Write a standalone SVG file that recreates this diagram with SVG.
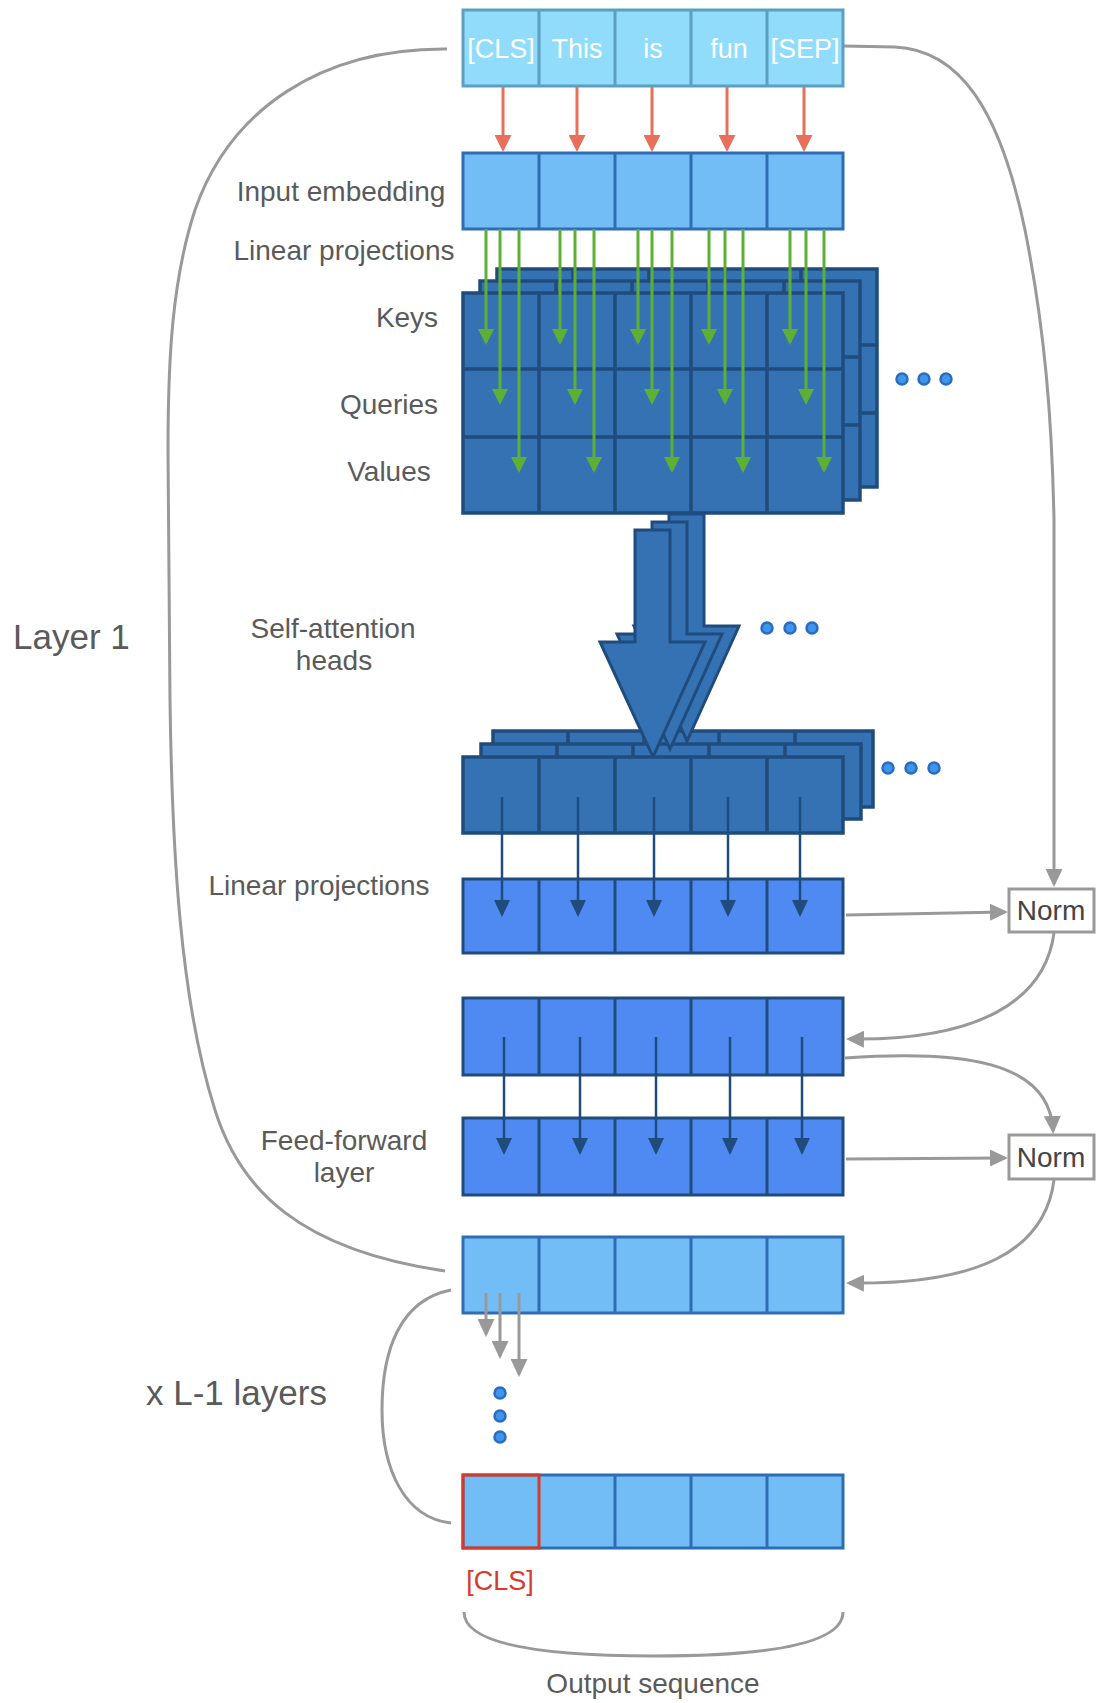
<svg xmlns="http://www.w3.org/2000/svg" width="1096" height="1703" viewBox="0 0 1096 1703">
<style>
text{font-family:"Liberation Sans",Arial,Helvetica,sans-serif}
.lbl{font-size:28px;fill:#5a5a5a;text-anchor:middle}
.big{font-size:35px;fill:#5a5a5a}
.tok{font-size:27px;fill:#ffffff;text-anchor:middle}
.nrm{font-size:28px;fill:#444444;text-anchor:middle}
.cls{font-size:27px;fill:#d63a2a;text-anchor:middle}
.tokc{fill:#90dcfa;stroke:#5b9fc1;stroke-width:3}
.tokl{stroke:#5b9fc1;stroke-width:3}
.emb{fill:#73bdf7;stroke:#2e6db4;stroke-width:3}
.embl{stroke:#2e6db4;stroke-width:3}
.att{fill:#3472b4;stroke:#1f4c7d;stroke-width:3.5}
.attl{stroke:#1f4c7d;stroke-width:3.5}
.lin{fill:#4f8af2;stroke:#1f4c7d;stroke-width:3}
.linl{stroke:#1f4c7d;stroke-width:3}
.gray{fill:none;stroke:#999999;stroke-width:3}
.red{stroke:#e8705a;stroke-width:3}
.green{stroke:#5cb033;stroke-width:3}
.dark{stroke:#1f4c7d;stroke-width:2.5}
.dot{fill:#3f95ec;stroke:#2a6cbf;stroke-width:2.5}
.bigarr{fill:#3472b4;stroke:#1f4c7d;stroke-width:3;stroke-linejoin:miter}
.normbox{fill:#ffffff;stroke:#999999;stroke-width:3}
</style>
<defs>
<marker id="mGray" viewBox="0 0 18 17" refX="15" refY="8.5" markerWidth="18" markerHeight="17" markerUnits="userSpaceOnUse" orient="auto"><path d="M0,0 L18,8.5 L0,17 z" fill="#999999"/></marker>
<marker id="mRed" viewBox="0 0 17 17" refX="14" refY="8.5" markerWidth="17" markerHeight="17" markerUnits="userSpaceOnUse" orient="auto"><path d="M0,0 L17,8.5 L0,17 z" fill="#e8705a"/></marker>
<marker id="mGreen" viewBox="0 0 16 16" refX="13" refY="8" markerWidth="16" markerHeight="16" markerUnits="userSpaceOnUse" orient="auto"><path d="M0,0 L16,8 L0,16 z" fill="#5cb033"/></marker>
<marker id="mDark" viewBox="0 0 17 16" refX="14" refY="8" markerWidth="17" markerHeight="16" markerUnits="userSpaceOnUse" orient="auto"><path d="M0,0 L17,8 L0,16 z" fill="#1f4c7d"/></marker>
</defs>
<rect width="1096" height="1703" fill="#ffffff"/>

<!-- connectors (gray loops and skip connections) -->
<g id="connectors">
<path class="gray" d="M447,49 C320,48 230,110 195,210 C172,280 168,360 168,450 L170,700 C172,850 180,1000 215,1110 C240,1190 300,1250 445,1271"/>
<path class="gray" d="M451,1290 C400,1300 382,1350 382,1410 C382,1470 405,1518 451,1523"/>
<path class="gray" d="M843,46 L895,47 C960,50 1000,110 1025,230 C1045,330 1052,420 1054,520 L1054,884" marker-end="url(#mGray)"/>
<path class="gray" d="M846,915 L1005,912" marker-end="url(#mGray)"/>
<path class="gray" d="M1054,933 C1045,1000 980,1041 849,1039" marker-end="url(#mGray)"/>
<path class="gray" d="M845,1058 C960,1050 1050,1060 1053,1131" marker-end="url(#mGray)"/>
<path class="gray" d="M846,1159 L1005,1158" marker-end="url(#mGray)"/>
<path class="gray" d="M1054,1180 C1045,1250 980,1285 849,1283" marker-end="url(#mGray)"/>
<path class="gray" d="M464,1612 C464,1648 560,1656 654,1656 C748,1656 843,1648 843,1612"/>
</g>

<!-- input tokens -->
<g id="tokens">
<rect class="tokc" x="463" y="10" width="380" height="76"/>
<line class="tokl" x1="539" y1="10" x2="539" y2="86"/>
<line class="tokl" x1="615" y1="10" x2="615" y2="86"/>
<line class="tokl" x1="691" y1="10" x2="691" y2="86"/>
<line class="tokl" x1="767" y1="10" x2="767" y2="86"/>
<text class="tok" x="501" y="58">[CLS]</text>
<text class="tok" x="577" y="58">This</text>
<text class="tok" x="653" y="58">is</text>
<text class="tok" x="729" y="58">fun</text>
<text class="tok" x="805" y="58">[SEP]</text>
</g>

<!-- input embedding -->
<g id="embedding">
<rect class="emb" x="463" y="153" width="380" height="76"/>
<line class="embl" x1="539" y1="153" x2="539" y2="229"/>
<line class="embl" x1="615" y1="153" x2="615" y2="229"/>
<line class="embl" x1="691" y1="153" x2="691" y2="229"/>
<line class="embl" x1="767" y1="153" x2="767" y2="229"/>
</g>

<g id="token-arrows">
<line class="red" x1="503" y1="87" x2="503" y2="149" marker-end="url(#mRed)"/>
<line class="red" x1="577" y1="87" x2="577" y2="149" marker-end="url(#mRed)"/>
<line class="red" x1="652" y1="87" x2="652" y2="149" marker-end="url(#mRed)"/>
<line class="red" x1="727" y1="87" x2="727" y2="149" marker-end="url(#mRed)"/>
<line class="red" x1="804" y1="87" x2="804" y2="149" marker-end="url(#mRed)"/>
</g>

<!-- keys / queries / values heads -->
<g id="kqv-head3">
<rect class="att" x="497" y="269" width="380" height="218"/>
<line class="attl" x1="573" y1="269" x2="573" y2="487"/>
<line class="attl" x1="649" y1="269" x2="649" y2="487"/>
<line class="attl" x1="725" y1="269" x2="725" y2="487"/>
<line class="attl" x1="801" y1="269" x2="801" y2="487"/>
<line class="attl" x1="497" y1="345" x2="877" y2="345"/>
<line class="attl" x1="497" y1="413" x2="877" y2="413"/>
</g>
<g id="kqv-head2">
<rect class="att" x="480" y="281" width="380" height="219"/>
<line class="attl" x1="556" y1="281" x2="556" y2="500"/>
<line class="attl" x1="632" y1="281" x2="632" y2="500"/>
<line class="attl" x1="708" y1="281" x2="708" y2="500"/>
<line class="attl" x1="784" y1="281" x2="784" y2="500"/>
<line class="attl" x1="480" y1="357" x2="860" y2="357"/>
<line class="attl" x1="480" y1="425" x2="860" y2="425"/>
</g>
<g id="kqv-head1">
<rect class="att" x="463" y="293" width="380" height="220"/>
<line class="attl" x1="539" y1="293" x2="539" y2="513"/>
<line class="attl" x1="615" y1="293" x2="615" y2="513"/>
<line class="attl" x1="691" y1="293" x2="691" y2="513"/>
<line class="attl" x1="767" y1="293" x2="767" y2="513"/>
<line class="attl" x1="463" y1="369" x2="843" y2="369"/>
<line class="attl" x1="463" y1="437" x2="843" y2="437"/>
</g>

<g id="projection-arrows">
<line class="green" x1="486" y1="229" x2="486" y2="342" marker-end="url(#mGreen)"/>
<line class="green" x1="500" y1="229" x2="500" y2="402" marker-end="url(#mGreen)"/>
<line class="green" x1="519" y1="229" x2="519" y2="470" marker-end="url(#mGreen)"/>
<line class="green" x1="560" y1="229" x2="560" y2="342" marker-end="url(#mGreen)"/>
<line class="green" x1="575" y1="229" x2="575" y2="402" marker-end="url(#mGreen)"/>
<line class="green" x1="594" y1="229" x2="594" y2="470" marker-end="url(#mGreen)"/>
<line class="green" x1="638" y1="229" x2="638" y2="342" marker-end="url(#mGreen)"/>
<line class="green" x1="652" y1="229" x2="652" y2="402" marker-end="url(#mGreen)"/>
<line class="green" x1="672" y1="229" x2="672" y2="470" marker-end="url(#mGreen)"/>
<line class="green" x1="709" y1="229" x2="709" y2="342" marker-end="url(#mGreen)"/>
<line class="green" x1="725" y1="229" x2="725" y2="402" marker-end="url(#mGreen)"/>
<line class="green" x1="743" y1="229" x2="743" y2="470" marker-end="url(#mGreen)"/>
<line class="green" x1="790" y1="229" x2="790" y2="342" marker-end="url(#mGreen)"/>
<line class="green" x1="806" y1="229" x2="806" y2="402" marker-end="url(#mGreen)"/>
<line class="green" x1="824" y1="229" x2="824" y2="470" marker-end="url(#mGreen)"/>
</g>

<g id="dots-kqv">
<circle class="dot" cx="902" cy="379" r="5.5"/>
<circle class="dot" cx="924" cy="379" r="5.5"/>
<circle class="dot" cx="946" cy="379" r="5.5"/>
</g>

<!-- attention output heads -->
<g id="out-head3">
<rect class="att" x="493" y="731" width="380" height="76"/>
<line class="attl" x1="568" y1="731" x2="568" y2="807"/>
<line class="attl" x1="644" y1="731" x2="644" y2="807"/>
<line class="attl" x1="719" y1="731" x2="719" y2="807"/>
<line class="attl" x1="795" y1="731" x2="795" y2="807"/>
</g>
<g id="out-head2">
<rect class="att" x="481" y="744" width="380" height="75"/>
<line class="attl" x1="557" y1="744" x2="557" y2="819"/>
<line class="attl" x1="633" y1="744" x2="633" y2="819"/>
<line class="attl" x1="709" y1="744" x2="709" y2="819"/>
<line class="attl" x1="785" y1="744" x2="785" y2="819"/>
</g>

<g id="self-attention-arrows">
<polygon class="bigarr" points="669,514 704,514 704,626 739,626 687,741 634,626 669,626"/>
<polygon class="bigarr" points="652,522 687,522 687,634 722,634 670,749 617,634 652,634"/>
<polygon class="bigarr" points="635,530 670,530 670,642 705,642 653,757 600,642 635,642"/>
</g>

<g id="out-head1">
<rect class="att" x="463" y="757" width="380" height="76"/>
<line class="attl" x1="539" y1="757" x2="539" y2="833"/>
<line class="attl" x1="615" y1="757" x2="615" y2="833"/>
<line class="attl" x1="691" y1="757" x2="691" y2="833"/>
<line class="attl" x1="767" y1="757" x2="767" y2="833"/>
</g>

<g id="dots-attention">
<circle class="dot" cx="767" cy="628" r="5.5"/>
<circle class="dot" cx="790" cy="628" r="5.5"/>
<circle class="dot" cx="812" cy="628" r="5.5"/>
</g>
<g id="dots-output">
<circle class="dot" cx="888" cy="768" r="5.5"/>
<circle class="dot" cx="911" cy="768" r="5.5"/>
<circle class="dot" cx="934" cy="768" r="5.5"/>
</g>

<!-- linear projection row -->
<g id="linear">
<rect class="lin" x="463" y="879" width="380" height="74"/>
<line class="linl" x1="539" y1="879" x2="539" y2="953"/>
<line class="linl" x1="615" y1="879" x2="615" y2="953"/>
<line class="linl" x1="691" y1="879" x2="691" y2="953"/>
<line class="linl" x1="767" y1="879" x2="767" y2="953"/>
</g>
<g id="linear-arrows">
<line class="dark" x1="502" y1="797" x2="502" y2="914" marker-end="url(#mDark)"/>
<line class="dark" x1="578" y1="797" x2="578" y2="914" marker-end="url(#mDark)"/>
<line class="dark" x1="654" y1="797" x2="654" y2="914" marker-end="url(#mDark)"/>
<line class="dark" x1="728" y1="797" x2="728" y2="914" marker-end="url(#mDark)"/>
<line class="dark" x1="800" y1="797" x2="800" y2="914" marker-end="url(#mDark)"/>
</g>

<g id="norm1">
<rect class="normbox" x="1009" y="889" width="85" height="43"/>
<text class="nrm" x="1051" y="920">Norm</text>
</g>

<!-- feed-forward input / output -->
<g id="ff-in">
<rect class="lin" x="463" y="998" width="380" height="77"/>
<line class="linl" x1="539" y1="998" x2="539" y2="1075"/>
<line class="linl" x1="615" y1="998" x2="615" y2="1075"/>
<line class="linl" x1="691" y1="998" x2="691" y2="1075"/>
<line class="linl" x1="767" y1="998" x2="767" y2="1075"/>
</g>
<g id="ff-out">
<rect class="lin" x="463" y="1118" width="380" height="77"/>
<line class="linl" x1="539" y1="1118" x2="539" y2="1195"/>
<line class="linl" x1="615" y1="1118" x2="615" y2="1195"/>
<line class="linl" x1="691" y1="1118" x2="691" y2="1195"/>
<line class="linl" x1="767" y1="1118" x2="767" y2="1195"/>
</g>
<g id="ff-arrows">
<line class="dark" x1="504" y1="1037" x2="504" y2="1152" marker-end="url(#mDark)"/>
<line class="dark" x1="580" y1="1037" x2="580" y2="1152" marker-end="url(#mDark)"/>
<line class="dark" x1="656" y1="1037" x2="656" y2="1152" marker-end="url(#mDark)"/>
<line class="dark" x1="730" y1="1037" x2="730" y2="1152" marker-end="url(#mDark)"/>
<line class="dark" x1="802" y1="1037" x2="802" y2="1152" marker-end="url(#mDark)"/>
</g>

<g id="norm2">
<rect class="normbox" x="1009" y="1135" width="85" height="44"/>
<text class="nrm" x="1051" y="1167">Norm</text>
</g>

<!-- layer 1 output -->
<g id="layer1-out">
<rect class="emb" x="463" y="1237" width="380" height="76"/>
<line class="embl" x1="539" y1="1237" x2="539" y2="1313"/>
<line class="embl" x1="615" y1="1237" x2="615" y2="1313"/>
<line class="embl" x1="691" y1="1237" x2="691" y2="1313"/>
<line class="embl" x1="767" y1="1237" x2="767" y2="1313"/>
</g>
<g id="next-arrows">
<line class="gray" x1="486" y1="1293" x2="486" y2="1334" marker-end="url(#mGray)"/>
<line class="gray" x1="500" y1="1293" x2="500" y2="1356" marker-end="url(#mGray)"/>
<line class="gray" x1="519" y1="1293" x2="519" y2="1374" marker-end="url(#mGray)"/>
</g>
<g id="dots-layers">
<circle class="dot" cx="500" cy="1393" r="5.5"/>
<circle class="dot" cx="500" cy="1416" r="5.5"/>
<circle class="dot" cx="500" cy="1437" r="5.5"/>
</g>

<!-- final output -->
<g id="output">
<rect class="emb" x="463" y="1475" width="380" height="73"/>
<line class="embl" x1="615" y1="1475" x2="615" y2="1548"/>
<line class="embl" x1="691" y1="1475" x2="691" y2="1548"/>
<line class="embl" x1="767" y1="1475" x2="767" y2="1548"/>
<rect x="463" y="1475" width="76" height="73" fill="none" stroke="#d63a2a" stroke-width="3"/>
<text class="cls" x="500" y="1590">[CLS]</text>
</g>

<!-- labels -->
<g id="labels">
<text class="lbl" x="341" y="201">Input embedding</text>
<text class="lbl" x="344" y="260">Linear projections</text>
<text class="lbl" x="407" y="327">Keys</text>
<text class="lbl" x="389" y="414">Queries</text>
<text class="lbl" x="389" y="481">Values</text>
<text class="lbl" x="333" y="638">Self-attention</text>
<text class="lbl" x="334" y="670">heads</text>
<text class="big" x="13" y="649">Layer 1</text>
<text class="lbl" x="319" y="895">Linear projections</text>
<text class="lbl" x="344" y="1150">Feed-forward</text>
<text class="lbl" x="344" y="1182">layer</text>
<text class="big" x="146" y="1405">x L-1 layers</text>
<text class="lbl" x="653" y="1693">Output sequence</text>
</g>
</svg>
